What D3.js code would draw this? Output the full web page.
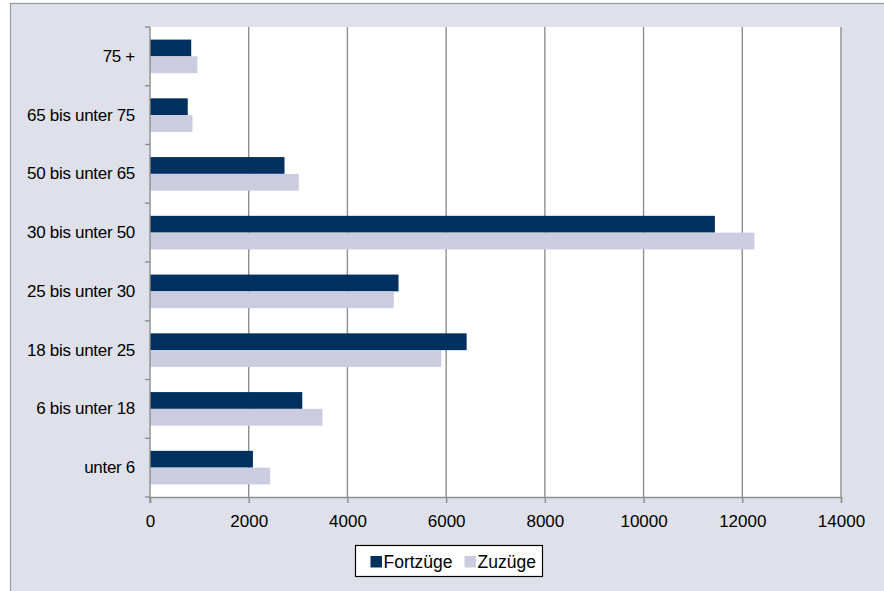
<!DOCTYPE html>
<html>
<head>
<meta charset="utf-8">
<script src="https://cdn.jsdelivr.net/npm/d3@7"></script>
<style>
  body { margin: 0; background: #fff; }
  text { font-family: "Liberation Sans", Arial, sans-serif; }
</style>
</head>
<body>
<div id="chart"></div>
<script>
// categories, top to bottom
var categories = ["75 +", "65 bis unter 75", "50 bis unter 65", "30 bis unter 50",
                  "25 bis unter 30", "18 bis unter 25", "6 bis unter 18", "unter 6"];
var fortzuege = [835, 765, 2725, 11445, 5035, 6415, 3085, 2085];
var zuzuege = [960, 860, 3015, 12245, 4940, 5900, 3495, 2435];
var seriesNames = ["Fortzüge", "Zuzüge"];
var xTicks = [0, 2000, 4000, 6000, 8000, 10000, 12000, 14000];

var svgWidth = 884;
var svgHeight = 591;

var margin = { top: 27, right: 43, bottom: 94, left: 150 };
var chartWidth = 841 - margin.left;
var chartHeight = 497 - margin.top;

var colors = ["#00305e", "#cbcce0"];
var fontFam = "'Liberation Sans', Arial, sans-serif";

var svg = d3.select("#chart")
            .append("svg")
            .attr("width", svgWidth)
            .attr("height", svgHeight);

// outer frame
svg.append("rect")
   .attr("x", 10.5).attr("y", 3.5)
   .attr("width", svgWidth).attr("height", svgHeight)
   .attr("fill", "#dfe1ea")
   .attr("stroke", "#999")
   .attr("stroke-width", 1.2);

var chartGroup = svg.append("g").attr("transform", `translate(${margin.left}, ${margin.top})`);

chartGroup.append("rect")
          .attr("width", chartWidth)
          .attr("height", chartHeight)
          .attr("fill", "#fff");

var xScale = d3.scaleLinear()
               .domain([0, 14000])
               .range([0, chartWidth]);

var yScale = d3.scaleBand()
               .domain(categories)
               .range([0, chartHeight]);

var inner = d3.scaleBand()
              .domain(seriesNames)
              .range([0, yScale.bandwidth()])
              .paddingInner(0)
              .paddingOuter(0.75);

// gridlines
chartGroup.append("g")
          .selectAll("line")
          .data(xTicks.slice(1))
          .enter()
          .append("line")
          .attr("x1", d => xScale(d)).attr("x2", d => xScale(d))
          .attr("y1", 0).attr("y2", chartHeight)
          .attr("stroke", "#8f8f8f")
          .attr("stroke-width", 1.4);

// bars
var rows = categories.map((c, i) => ({ cat: c, vals: [fortzuege[i], zuzuege[i]] }));

var groups = chartGroup.selectAll(".row")
                       .data(rows)
                       .enter()
                       .append("g")
                       .attr("transform", d => `translate(0, ${yScale(d.cat)})`);

groups.selectAll("rect")
      .data(d => d.vals.map((v, j) => ({ name: seriesNames[j], v: v, j: j })))
      .enter()
      .append("rect")
      .attr("x", 0)
      .attr("y", d => inner(d.name))
      .attr("width", d => xScale(d.v))
      .attr("height", inner.bandwidth())
      .attr("fill", d => colors[d.j]);

// axes
var xAxis = d3.axisBottom(xScale).tickValues(xTicks).tickFormat(d3.format("d"))
              .tickSize(6).tickPadding(12);
var yAxis = d3.axisLeft(yScale).tickSize(0).tickPadding(15);

var gx = chartGroup.append("g")
                   .attr("transform", `translate(0, ${chartHeight})`)
                   .call(xAxis);
gx.select(".domain").attr("stroke", "#8f8f8f").attr("stroke-width", 1.4);
gx.selectAll(".tick line").attr("stroke", "#8f8f8f").attr("stroke-width", 1.4);
gx.selectAll("text").attr("fill", "#000")
  .style("font-size", "17px")
  .style("font-family", fontFam);

var gy = chartGroup.append("g").call(yAxis);
gy.select(".domain").remove();
gy.selectAll("text").attr("fill", "#000")
  .style("font-size", "17px")
  .style("letter-spacing", "-0.3px")
  .style("font-family", fontFam);

chartGroup.append("line")
          .attr("x1", 0).attr("x2", 0)
          .attr("y1", 0).attr("y2", chartHeight + 6)
          .attr("stroke", "#8f8f8f")
          .attr("stroke-width", 1.4);

// category boundary ticks
chartGroup.append("g")
          .selectAll("line")
          .data(d3.range(categories.length + 1))
          .enter()
          .append("line")
          .attr("x1", -5).attr("x2", 0)
          .attr("y1", d => d * yScale.step()).attr("y2", d => d * yScale.step())
          .attr("stroke", "#8f8f8f")
          .attr("stroke-width", 1.4);

// legend
var legend = svg.append("g").attr("transform", "translate(355.5, 545.5)");
legend.append("rect")
      .attr("width", 187).attr("height", 31)
      .attr("fill", "#fff")
      .attr("stroke", "#000")
      .attr("stroke-width", 1.2);

var legendX = [15, 109];
seriesNames.forEach(function(name, i) {
    legend.append("rect")
          .attr("x", legendX[i]).attr("y", 10.5)
          .attr("width", 11.5).attr("height", 11.5)
          .attr("fill", colors[i]);
    legend.append("text")
          .attr("x", legendX[i] + 13).attr("y", 22.5)
          .style("font-size", "17.5px")
          .style("font-family", fontFam)
          .text(name);
});
</script>
</body>
</html>
